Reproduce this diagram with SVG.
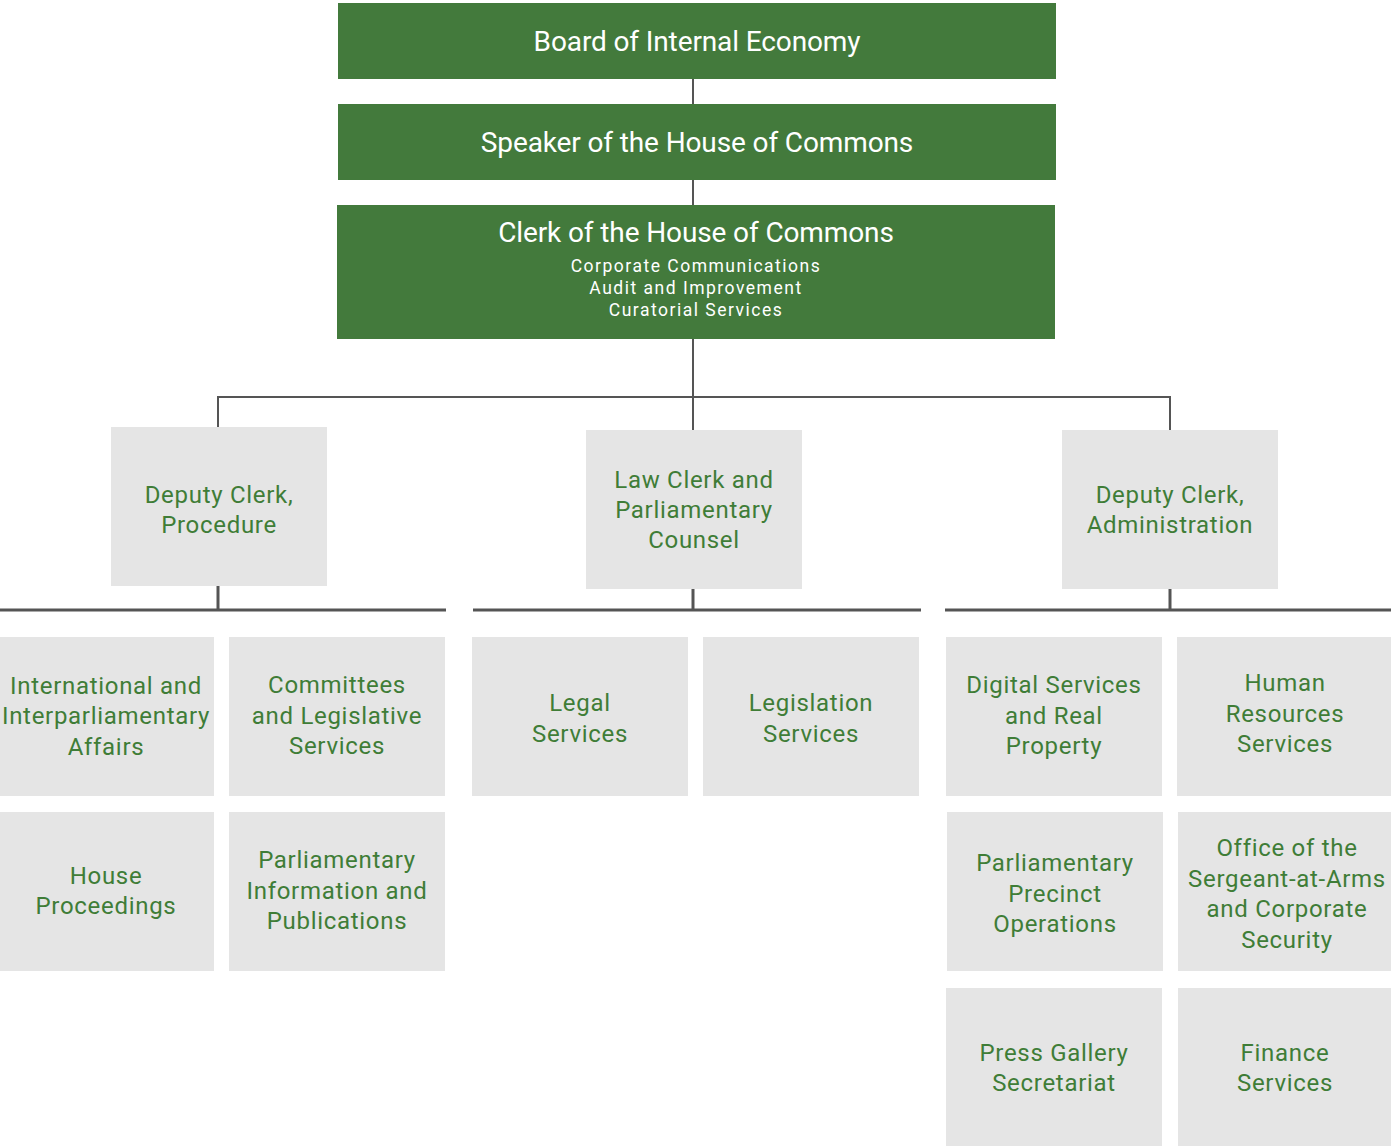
<svg xmlns="http://www.w3.org/2000/svg" width="1391" height="1146" viewBox="0 0 1391 1146">
<style>
.top{fill:#437a3c}
.box{fill:#e5e5e5}
.tt{font-family:Roboto,"Liberation Sans",sans-serif;font-size:28px;fill:#ffffff;text-anchor:middle;letter-spacing:-0.12px}
.st{font-family:Roboto,"Liberation Sans",sans-serif;font-size:17.5px;fill:#ffffff;text-anchor:middle;letter-spacing:1.5px}
.bt{font-family:Roboto,"Liberation Sans",sans-serif;font-size:24px;fill:#3f7d37;text-anchor:middle;letter-spacing:0.7px}
.ln{stroke:#555;stroke-width:2;fill:none}
.bar{stroke:#555;stroke-width:3;fill:none}
</style>
<rect width="1391" height="1146" fill="#fff"/>
<g id="connectors">
<line class="ln" x1="693" y1="79" x2="693" y2="104"/>
<line class="ln" x1="693" y1="180" x2="693" y2="205"/>
<line class="ln" x1="693" y1="339" x2="693" y2="430"/>
<polyline class="ln" points="218,427 218,397 1170,397 1170,430"/>
<line class="bar" x1="218" y1="586" x2="218" y2="610"/>
<line class="bar" x1="693" y1="589" x2="693" y2="610"/>
<line class="bar" x1="1170" y1="589" x2="1170" y2="610"/>
<line class="bar" x1="0" y1="610" x2="446" y2="610"/>
<line class="bar" x1="473" y1="610" x2="921" y2="610"/>
<line class="bar" x1="945" y1="610" x2="1391" y2="610"/>
</g>
<g id="board"><rect class="top" x="338" y="3" width="718" height="76"/><text class="tt" x="697" y="51">Board of Internal Economy</text></g>
<g id="speaker"><rect class="top" x="338" y="104" width="718" height="76"/><text class="tt" x="697" y="152">Speaker of the House of Commons</text></g>
<g id="clerk"><rect class="top" x="337" y="205" width="718" height="134"/><text class="tt" x="696" y="242">Clerk of the House of Commons</text>
<text class="st" x="696" y="272">Corporate Communications</text>
<text class="st" x="696" y="294">Audit and Improvement</text>
<text class="st" x="696" y="316">Curatorial Services</text></g>
<g id="dc-procedure"><rect class="box" x="111" y="427" width="216" height="159"/><text class="bt" x="219"><tspan x="219" y="503">Deputy Clerk,</tspan><tspan x="219" y="533">Procedure</tspan></text></g>
<g id="law-clerk"><rect class="box" x="586" y="430" width="216" height="159"/><text class="bt"><tspan x="694" y="488">Law Clerk and</tspan><tspan x="694" y="518">Parliamentary</tspan><tspan x="694" y="548">Counsel</tspan></text></g>
<g id="dc-admin"><rect class="box" x="1062" y="430" width="216" height="159"/><text class="bt"><tspan x="1170" y="503">Deputy Clerk,</tspan><tspan x="1170" y="533">Administration</tspan></text></g>
<g id="intl"><rect class="box" x="0" y="637" width="214" height="159"/><text class="bt"><tspan x="106" y="694">International and</tspan><tspan x="106" y="724">Interparliamentary</tspan><tspan x="106" y="755">Affairs</tspan></text></g>
<g id="committees"><rect class="box" x="229" y="637" width="216" height="159"/><text class="bt"><tspan x="337" y="693">Committees</tspan><tspan x="337" y="724">and Legislative</tspan><tspan x="337" y="754">Services</tspan></text></g>
<g id="legal"><rect class="box" x="472" y="637" width="216" height="159"/><text class="bt"><tspan x="580" y="711">Legal</tspan><tspan x="580" y="742">Services</tspan></text></g>
<g id="legislation"><rect class="box" x="703" y="637" width="216" height="159"/><text class="bt"><tspan x="811" y="711">Legislation</tspan><tspan x="811" y="742">Services</tspan></text></g>
<g id="digital"><rect class="box" x="946" y="637" width="216" height="159"/><text class="bt"><tspan x="1054" y="693">Digital Services</tspan><tspan x="1054" y="724">and Real</tspan><tspan x="1054" y="754">Property</tspan></text></g>
<g id="hr"><rect class="box" x="1177" y="637" width="214" height="159"/><text class="bt"><tspan x="1285" y="691">Human</tspan><tspan x="1285" y="722">Resources</tspan><tspan x="1285" y="752">Services</tspan></text></g>
<g id="house-proceedings"><rect class="box" x="0" y="812" width="214" height="159"/><text class="bt"><tspan x="106" y="884">House</tspan><tspan x="106" y="914">Proceedings</tspan></text></g>
<g id="pip"><rect class="box" x="229" y="812" width="216" height="159"/><text class="bt"><tspan x="337" y="868">Parliamentary</tspan><tspan x="337" y="899">Information and</tspan><tspan x="337" y="929">Publications</tspan></text></g>
<g id="ppo"><rect class="box" x="947" y="812" width="216" height="159"/><text class="bt"><tspan x="1055" y="871">Parliamentary</tspan><tspan x="1055" y="902">Precinct</tspan><tspan x="1055" y="932">Operations</tspan></text></g>
<g id="osaa"><rect class="box" x="1178" y="812" width="213" height="159"/><text class="bt"><tspan x="1287" y="856">Office of the</tspan><tspan x="1287" y="887">Sergeant-at-Arms</tspan><tspan x="1287" y="917">and Corporate</tspan><tspan x="1287" y="948">Security</tspan></text></g>
<g id="press"><rect class="box" x="946" y="988" width="216" height="158"/><text class="bt"><tspan x="1054" y="1061">Press Gallery</tspan><tspan x="1054" y="1091">Secretariat</tspan></text></g>
<g id="finance"><rect class="box" x="1178" y="988" width="213" height="158"/><text class="bt"><tspan x="1285" y="1061">Finance</tspan><tspan x="1285" y="1091">Services</tspan></text></g>
</svg>
